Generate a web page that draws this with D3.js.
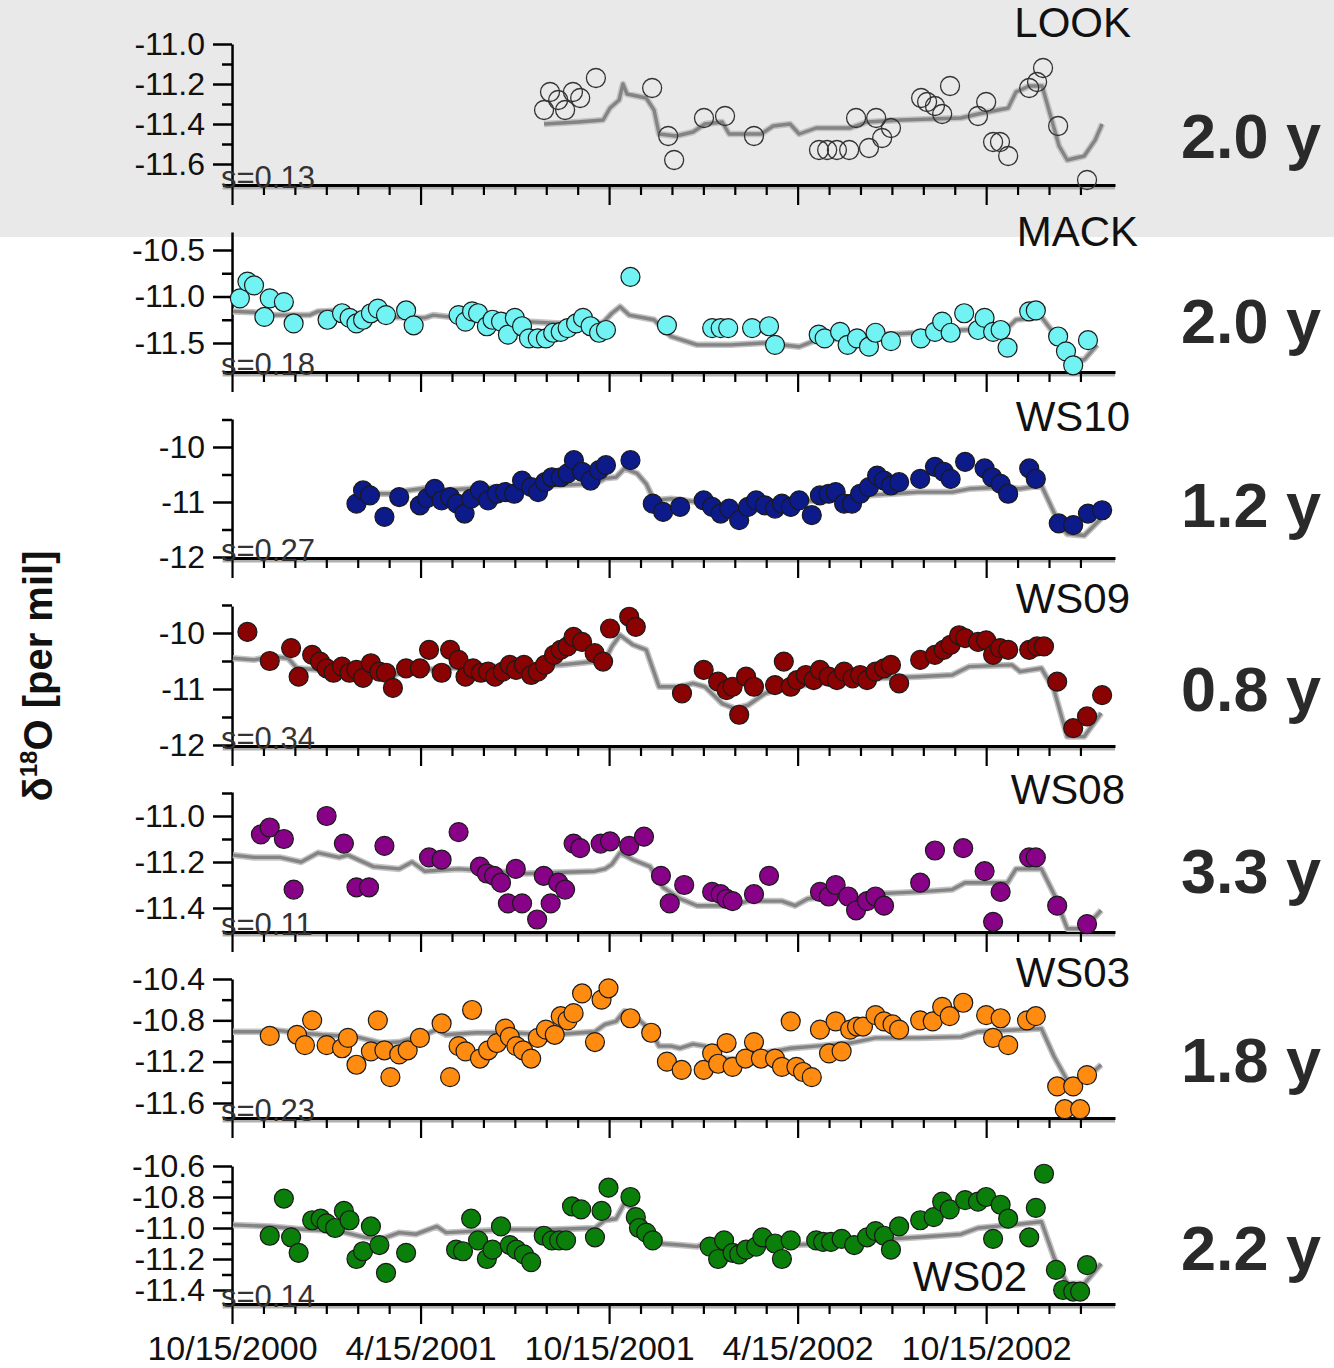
<!DOCTYPE html>
<html>
<head>
<meta charset="utf-8">
<script src="https://cdn.jsdelivr.net/npm/d3@7"></script>
<style>
  body { margin: 0; background: #fff; }
  svg { display: block; font-family: "Liberation Sans", Arial, sans-serif; }
</style>
</head>
<body>
<div id="chart"></div>
<script>
// x values are months after 10/15/2000, y values are d18O in per mil

const STATIONS = ["LOOK", "MACK", "WS10", "WS09", "WS08", "WS03", "WS02"];
const LAGS = ["2.0 y", "2.0 y", "1.2 y", "0.8 y", "3.3 y", "1.8 y", "2.2 y"];
const SIGMAS = ["s=0.13", "s=0.18", "s=0.27", "s=0.34", "s=0.11", "s=0.23", "s=0.14"];
const MONTH_TICKS = d3.range(0, 28);
const DATE_TICKS = [0, 6, 12, 18, 24];
const DATE_LABELS = ["10/15/2000", "4/15/2001", "10/15/2001", "4/15/2002", "10/15/2002"];

const LOOK_TICKS = [-11.0, -11.2, -11.4, -11.6];
const LOOK_MINOR = [-11.1, -11.3, -11.5];
const MACK_TICKS = [-10.5, -11.0, -11.5];
const MACK_MINOR = [-10.75, -11.25];
const WS10_TICKS = [-10, -11, -12];
const WS10_MINOR = [-9.5, -10.5, -11.5];
const WS09_TICKS = [-10, -11, -12];
const WS09_MINOR = [-9.5, -10.5, -11.5];
const WS08_TICKS = [-11.0, -11.2, -11.4];
const WS08_MINOR = [-10.9, -11.1, -11.3];
const WS03_TICKS = [-10.4, -10.8, -11.2, -11.6];
const WS03_MINOR = [-10.6, -11.0, -11.4];
const WS02_TICKS = [-10.6, -10.8, -11.0, -11.2, -11.4];
const WS02_MINOR = [-10.7, -10.9, -11.1, -11.3];

const LOOK_OBS = [
  [9.93, -11.33], [10.12, -11.24], [10.38, -11.28], [10.60, -11.33], [10.85, -11.24],
  [11.08, -11.27], [11.58, -11.17], [13.37, -11.22], [13.88, -11.46], [14.07, -11.58],
  [15.02, -11.37], [15.69, -11.36], [16.61, -11.46], [18.68, -11.53], [18.94, -11.53],
  [19.25, -11.53], [19.64, -11.53], [19.86, -11.37], [20.27, -11.52], [20.50, -11.37],
  [20.69, -11.47], [20.97, -11.42], [21.93, -11.27], [22.12, -11.29], [22.37, -11.31],
  [22.60, -11.35], [22.85, -11.21], [23.74, -11.36], [24.00, -11.29], [24.22, -11.49],
  [24.44, -11.49], [24.70, -11.56], [25.37, -11.22], [25.62, -11.19], [25.81, -11.12],
  [26.29, -11.41], [27.21, -11.68]
];
const LOOK_FIT = [
  [9.93, -11.40], [11.01, -11.39], [11.81, -11.38], [12.03, -11.32], [12.32, -11.28],
  [12.44, -11.20], [12.57, -11.25], [13.18, -11.27], [13.43, -11.33], [13.59, -11.45],
  [14.13, -11.46], [14.67, -11.44], [15.05, -11.40], [15.60, -11.39], [15.82, -11.45],
  [16.84, -11.45], [17.22, -11.41], [17.76, -11.40], [18.05, -11.45], [18.59, -11.42],
  [19.67, -11.42], [20.21, -11.39], [21.29, -11.38], [23.20, -11.37], [23.74, -11.35],
  [24.70, -11.32], [24.95, -11.24], [25.37, -11.21], [25.78, -11.21], [26.32, -11.51],
  [26.58, -11.58], [27.12, -11.56], [27.47, -11.48], [27.69, -11.40]
];

const MACK_OBS = [
  [0.25, -11.02], [0.49, -10.84], [0.70, -10.88], [1.03, -11.22], [1.20, -11.02],
  [1.65, -11.06], [1.96, -11.29], [3.04, -11.25], [3.50, -11.18], [3.74, -11.23],
  [3.96, -11.29], [4.17, -11.25], [4.42, -11.18], [4.64, -11.13], [4.90, -11.20],
  [5.54, -11.15], [5.78, -11.31], [7.21, -11.20], [7.43, -11.27], [7.64, -11.16],
  [7.83, -11.18], [8.11, -11.32], [8.29, -11.25], [8.56, -11.27], [8.78, -11.41],
  [9.00, -11.23], [9.23, -11.32], [9.45, -11.45], [9.73, -11.45], [9.99, -11.45],
  [10.22, -11.39], [10.46, -11.38], [10.68, -11.34], [10.95, -11.29], [11.17, -11.23],
  [11.41, -11.32], [11.68, -11.39], [11.90, -11.36], [12.68, -10.79], [13.84, -11.31],
  [15.28, -11.34], [15.55, -11.34], [15.79, -11.34], [16.55, -11.34], [17.09, -11.32],
  [17.28, -11.52], [18.67, -11.41], [18.86, -11.45], [19.35, -11.38], [19.59, -11.52],
  [19.89, -11.45], [20.27, -11.54], [20.48, -11.39], [20.97, -11.48], [21.92, -11.45],
  [22.37, -11.38], [22.60, -11.27], [22.87, -11.39], [23.30, -11.18], [23.74, -11.36],
  [23.95, -11.23], [24.22, -11.38], [24.46, -11.36], [24.68, -11.55], [25.37, -11.16],
  [25.58, -11.15], [26.29, -11.43], [26.54, -11.59], [26.77, -11.74], [27.24, -11.47]
];
const MACK_FIT = [
  [0.03, -11.16], [0.70, -11.17], [1.24, -11.20], [2.47, -11.20], [2.74, -11.16],
  [3.41, -11.15], [4.23, -11.20], [5.04, -11.22], [6.13, -11.23], [6.40, -11.20],
  [7.21, -11.23], [8.29, -11.25], [9.38, -11.27], [10.46, -11.29], [11.81, -11.28],
  [12.09, -11.18], [12.35, -11.11], [12.64, -11.20], [13.43, -11.25], [13.97, -11.43],
  [14.80, -11.52], [15.88, -11.52], [16.96, -11.50], [18.05, -11.54], [18.59, -11.47],
  [19.67, -11.45], [20.75, -11.41], [21.83, -11.39], [23.20, -11.36], [24.68, -11.34],
  [24.95, -11.25], [25.76, -11.22], [26.32, -11.47], [26.58, -11.68], [27.12, -11.68],
  [27.53, -11.52]
];

const WS10_OBS = [
  [3.96, -11.03], [4.17, -10.79], [4.39, -10.88], [4.85, -11.27], [5.32, -10.91],
  [5.98, -11.06], [6.21, -10.93], [6.45, -10.76], [6.67, -10.97], [6.94, -10.91],
  [7.16, -11.03], [7.40, -11.21], [7.61, -10.94], [7.89, -10.79], [8.15, -10.97],
  [8.43, -10.85], [8.69, -10.82], [8.98, -10.85], [9.23, -10.61], [9.52, -10.73],
  [9.74, -10.82], [9.96, -10.64], [10.18, -10.55], [10.46, -10.55], [10.68, -10.48],
  [10.88, -10.24], [11.14, -10.45], [11.41, -10.61], [11.68, -10.42], [11.90, -10.33],
  [12.68, -10.24], [13.39, -11.03], [13.72, -11.18], [14.26, -11.09], [15.01, -10.97],
  [15.28, -11.09], [15.55, -11.21], [15.82, -11.12], [16.14, -11.33], [16.42, -11.09],
  [16.68, -10.97], [16.96, -11.06], [17.28, -11.12], [17.50, -11.03], [17.78, -11.09],
  [18.05, -10.97], [18.45, -11.24], [18.71, -10.88], [18.99, -10.85], [19.21, -10.82],
  [19.48, -11.03], [19.73, -11.03], [19.99, -10.85], [20.27, -10.73], [20.53, -10.52],
  [20.75, -10.61], [20.97, -10.70], [21.23, -10.64], [21.90, -10.58], [22.37, -10.36],
  [22.65, -10.45], [22.87, -10.58], [23.33, -10.27], [23.95, -10.39], [24.19, -10.55],
  [24.46, -10.67], [24.70, -10.85], [25.37, -10.39], [25.58, -10.58], [26.31, -11.39],
  [26.77, -11.42], [27.24, -11.21], [27.69, -11.15]
];
const WS10_FIT = [
  [3.95, -10.85], [5.04, -10.85], [5.59, -10.79], [6.13, -10.75], [6.67, -10.79],
  [7.75, -10.75], [8.84, -10.73], [10.18, -10.70], [11.55, -10.67], [11.87, -10.57],
  [12.22, -10.55], [12.49, -10.39], [12.89, -10.48], [13.18, -10.67], [13.43, -10.97],
  [13.97, -10.94], [14.80, -11.00], [15.05, -11.06], [15.60, -11.18], [16.42, -11.21],
  [16.96, -11.06], [18.05, -11.00], [19.12, -10.94], [20.21, -10.88], [21.83, -10.82],
  [22.92, -10.82], [23.46, -10.76], [24.54, -10.73], [25.08, -10.76], [25.76, -10.70],
  [26.32, -11.39], [26.58, -11.58], [27.12, -11.61], [27.66, -11.30]
];

const WS09_OBS = [
  [0.49, -9.98], [1.20, -10.50], [1.88, -10.27], [2.12, -10.78], [2.55, -10.39],
  [2.80, -10.51], [3.01, -10.63], [3.23, -10.71], [3.50, -10.60], [3.74, -10.71],
  [3.96, -10.66], [4.17, -10.80], [4.42, -10.54], [4.69, -10.69], [4.90, -10.71],
  [5.12, -10.98], [5.54, -10.63], [5.98, -10.63], [6.27, -10.30], [6.67, -10.71],
  [6.94, -10.30], [7.21, -10.48], [7.43, -10.78], [7.67, -10.63], [7.92, -10.71],
  [8.15, -10.69], [8.37, -10.78], [8.62, -10.69], [8.84, -10.57], [9.04, -10.66],
  [9.29, -10.57], [9.52, -10.75], [9.73, -10.69], [9.96, -10.57], [10.25, -10.39],
  [10.46, -10.30], [10.68, -10.24], [10.87, -10.07], [11.14, -10.16], [11.54, -10.36],
  [11.81, -10.51], [12.03, -9.92], [12.64, -9.71], [12.85, -9.89], [14.32, -11.08],
  [15.01, -10.66], [15.47, -10.87], [15.74, -11.02], [15.93, -10.96], [16.14, -11.46],
  [16.36, -10.78], [16.61, -10.96], [17.28, -10.93], [17.56, -10.51], [17.78, -10.96],
  [17.98, -10.84], [18.26, -10.75], [18.51, -10.84], [18.71, -10.66], [18.99, -10.78],
  [19.25, -10.84], [19.48, -10.69], [19.75, -10.81], [19.99, -10.75], [20.21, -10.84],
  [20.48, -10.69], [20.75, -10.63], [20.97, -10.57], [21.23, -10.90], [21.90, -10.48],
  [22.37, -10.39], [22.65, -10.30], [22.87, -10.21], [23.14, -10.04], [23.33, -10.09],
  [23.74, -10.16], [24.00, -10.13], [24.22, -10.39], [24.44, -10.27], [24.70, -10.30],
  [25.37, -10.30], [25.62, -10.24], [25.84, -10.24], [26.26, -10.87], [26.77, -11.70],
  [27.21, -11.49], [27.69, -11.11]
];
const WS09_FIT = [
  [0.03, -10.45], [0.70, -10.48], [1.24, -10.42], [1.78, -10.45], [2.07, -10.63],
  [2.86, -10.66], [3.69, -10.69], [4.50, -10.75], [5.04, -10.78], [5.32, -10.72],
  [6.13, -10.66], [6.67, -10.63], [8.84, -10.60], [10.46, -10.57], [11.55, -10.51],
  [11.87, -10.48], [12.09, -10.24], [12.35, -10.04], [12.76, -10.21], [13.18, -10.30],
  [13.59, -10.96], [14.26, -10.96], [14.67, -10.90], [15.05, -10.96], [15.60, -11.26],
  [16.01, -11.35], [16.42, -11.29], [16.96, -11.08], [17.78, -10.96], [19.12, -10.87],
  [20.48, -10.81], [21.83, -10.78], [22.92, -10.75], [23.46, -10.60], [24.82, -10.57],
  [25.08, -10.69], [25.76, -10.63], [26.16, -11.02], [26.58, -11.85], [27.12, -11.85],
  [27.66, -11.43]
];

const WS08_OBS = [
  [0.92, -11.08], [1.20, -11.05], [1.65, -11.10], [1.96, -11.32], [3.01, -11.00],
  [3.56, -11.12], [3.96, -11.31], [4.36, -11.31], [4.85, -11.13], [6.27, -11.18],
  [6.67, -11.19], [7.21, -11.07], [7.89, -11.22], [8.11, -11.25], [8.34, -11.26],
  [8.56, -11.29], [8.78, -11.38], [9.03, -11.23], [9.23, -11.38], [9.71, -11.45],
  [9.92, -11.26], [10.14, -11.38], [10.38, -11.29], [10.60, -11.32], [10.87, -11.12],
  [11.08, -11.14], [11.73, -11.12], [12.03, -11.11], [12.64, -11.13], [13.11, -11.09],
  [13.65, -11.26], [13.93, -11.38], [14.39, -11.30], [15.28, -11.33], [15.55, -11.34],
  [15.74, -11.36], [15.93, -11.37], [16.61, -11.34], [17.09, -11.26], [18.71, -11.33],
  [18.99, -11.35], [19.21, -11.30], [19.61, -11.35], [19.86, -11.41], [20.21, -11.37],
  [20.48, -11.35], [20.75, -11.39], [21.90, -11.29], [22.37, -11.15], [23.27, -11.14],
  [23.95, -11.24], [24.22, -11.46], [24.46, -11.33], [25.37, -11.18], [25.58, -11.18],
  [26.26, -11.39], [27.21, -11.47]
];
const WS08_FIT = [
  [0.03, -11.17], [0.70, -11.18], [1.53, -11.18], [2.20, -11.20], [2.74, -11.16],
  [3.41, -11.18], [3.69, -11.17], [4.50, -11.22], [5.32, -11.23], [5.73, -11.20],
  [6.13, -11.24], [7.21, -11.23], [8.29, -11.24], [9.38, -11.25], [11.55, -11.24],
  [11.87, -11.23], [12.09, -11.21], [12.35, -11.16], [12.76, -11.19], [13.30, -11.22],
  [13.72, -11.31], [14.26, -11.36], [14.80, -11.39], [15.88, -11.39], [16.42, -11.37],
  [17.50, -11.37], [17.92, -11.39], [18.32, -11.36], [19.12, -11.35], [19.67, -11.37],
  [20.21, -11.34], [21.83, -11.33], [22.92, -11.32], [23.33, -11.29], [24.68, -11.29],
  [24.95, -11.23], [25.76, -11.23], [26.16, -11.34], [26.58, -11.49], [27.12, -11.49],
  [27.66, -11.41]
];

const WS03_OBS = [
  [1.20, -10.95], [2.07, -10.94], [2.32, -11.04], [2.55, -10.80], [3.01, -11.04],
  [3.50, -11.07], [3.69, -10.97], [3.96, -11.23], [4.42, -11.10], [4.64, -10.80],
  [4.85, -11.09], [5.04, -11.35], [5.32, -11.13], [5.59, -11.09], [5.98, -10.97],
  [6.67, -10.83], [6.94, -11.35], [7.21, -11.05], [7.43, -11.10], [7.64, -10.70],
  [7.89, -11.17], [8.15, -11.09], [8.43, -11.02], [8.69, -10.88], [8.84, -10.96],
  [9.05, -11.05], [9.26, -11.09], [9.52, -11.17], [9.73, -10.97], [9.99, -10.89],
  [10.27, -10.94], [10.46, -10.76], [10.68, -10.80], [10.87, -10.73], [11.14, -10.54],
  [11.55, -11.01], [11.76, -10.60], [11.98, -10.49], [12.68, -10.78], [13.34, -10.92],
  [13.84, -11.20], [14.31, -11.28], [15.01, -11.28], [15.28, -11.12], [15.47, -11.22],
  [15.74, -11.02], [15.93, -11.25], [16.34, -11.17], [16.61, -11.01], [16.83, -11.17],
  [17.28, -11.17], [17.50, -11.25], [17.78, -10.81], [17.96, -11.25], [18.17, -11.30],
  [18.45, -11.35], [18.71, -10.89], [19.00, -11.12], [19.21, -10.81], [19.40, -11.10],
  [19.67, -10.89], [19.89, -10.86], [20.08, -10.86], [20.48, -10.75], [20.75, -10.81],
  [21.02, -10.84], [21.23, -10.89], [21.90, -10.80], [22.30, -10.81], [22.60, -10.67],
  [22.84, -10.76], [23.27, -10.63], [24.00, -10.75], [24.22, -10.97], [24.46, -10.78],
  [24.70, -11.04], [25.30, -10.80], [25.58, -10.76], [26.26, -11.44], [26.50, -11.66],
  [26.77, -11.44], [26.99, -11.66], [27.21, -11.33]
];
const WS03_FIT = [
  [0.03, -10.91], [0.99, -10.91], [1.24, -10.89], [2.07, -10.92], [2.86, -10.94],
  [3.96, -10.96], [4.77, -11.02], [5.32, -11.01], [6.13, -10.94], [6.52, -10.89],
  [6.81, -10.94], [7.75, -10.92], [8.84, -10.92], [10.18, -10.94], [11.55, -10.91],
  [11.87, -10.84], [12.22, -10.81], [12.49, -10.71], [12.89, -10.78], [13.30, -10.89],
  [13.59, -11.05], [13.97, -11.05], [14.26, -11.07], [14.67, -11.03], [15.05, -11.05],
  [15.60, -11.17], [16.14, -11.18], [16.68, -11.12], [17.23, -11.10], [17.78, -11.07],
  [18.59, -11.05], [19.67, -11.02], [20.48, -10.97], [21.83, -10.97], [23.20, -10.96],
  [23.74, -10.91], [25.08, -10.89], [25.76, -10.88], [26.16, -11.15], [26.58, -11.38],
  [27.12, -11.38], [27.66, -11.23]
];

const WS02_OBS = [
  [1.20, -11.05], [1.65, -10.81], [1.88, -11.06], [2.12, -11.16], [2.55, -10.95],
  [2.82, -10.94], [3.01, -10.97], [3.28, -11.00], [3.56, -10.89], [3.74, -10.95],
  [3.96, -11.20], [4.17, -11.15], [4.42, -10.99], [4.69, -11.11], [4.90, -11.29],
  [5.54, -11.16], [7.13, -11.14], [7.35, -11.15], [7.61, -10.94], [7.83, -11.08],
  [8.11, -11.20], [8.29, -11.14], [8.56, -10.99], [8.84, -11.11], [9.05, -11.14],
  [9.29, -11.17], [9.52, -11.22], [9.92, -11.05], [10.18, -11.08], [10.41, -11.08],
  [10.63, -11.08], [10.82, -10.86], [11.11, -10.88], [11.55, -11.06], [11.76, -10.89],
  [11.98, -10.74], [12.68, -10.80], [12.85, -10.93], [12.95, -11.00], [13.18, -11.03],
  [13.39, -11.08], [15.20, -11.12], [15.47, -11.20], [15.66, -11.08], [15.93, -11.16],
  [16.14, -11.17], [16.36, -11.14], [16.68, -11.12], [16.88, -11.06], [17.28, -11.10],
  [17.50, -11.20], [17.78, -11.08], [18.59, -11.08], [18.81, -11.09], [19.06, -11.09],
  [19.40, -11.07], [19.80, -11.11], [20.21, -11.06], [20.48, -11.02], [20.75, -11.05],
  [20.97, -11.14], [21.23, -10.99], [21.90, -10.95], [22.33, -10.93], [22.60, -10.83],
  [22.84, -10.88], [23.33, -10.82], [23.74, -10.83], [24.00, -10.80], [24.22, -11.07],
  [24.46, -10.85], [24.70, -10.94], [25.37, -11.06], [25.58, -10.87], [25.84, -10.65],
  [26.22, -11.27], [26.45, -11.40], [26.77, -11.41], [26.99, -11.41], [27.21, -11.24]
];
const WS02_FIT = [
  [0.03, -10.98], [1.24, -10.99], [1.78, -11.00], [2.32, -11.01], [3.41, -11.02],
  [4.23, -11.06], [4.77, -11.07], [5.32, -11.03], [5.86, -11.04], [6.52, -10.99],
  [6.81, -11.03], [7.75, -11.02], [8.84, -11.01], [10.18, -11.01], [11.55, -11.00],
  [11.87, -10.95], [12.22, -10.94], [12.49, -10.84], [12.89, -10.89], [13.18, -10.99],
  [13.59, -11.10], [14.26, -11.11], [14.80, -11.12], [15.20, -11.09], [15.60, -11.17],
  [16.14, -11.17], [16.68, -11.12], [17.78, -11.11], [19.12, -11.10], [20.21, -11.08],
  [21.83, -11.06], [23.20, -11.04], [23.74, -11.00], [24.82, -10.98], [25.76, -10.96],
  [26.16, -11.19], [26.58, -11.36], [27.12, -11.36], [27.66, -11.23]
];

// lookup tables built from the arrays above
const OBS = { LOOK: LOOK_OBS, MACK: MACK_OBS, WS10: WS10_OBS, WS09: WS09_OBS, WS08: WS08_OBS, WS03: WS03_OBS, WS02: WS02_OBS };
const FIT = { LOOK: LOOK_FIT, MACK: MACK_FIT, WS10: WS10_FIT, WS09: WS09_FIT, WS08: WS08_FIT, WS03: WS03_FIT, WS02: WS02_FIT };
const Y_TICKS = { LOOK: LOOK_TICKS, MACK: MACK_TICKS, WS10: WS10_TICKS, WS09: WS09_TICKS, WS08: WS08_TICKS, WS03: WS03_TICKS, WS02: WS02_TICKS };
const Y_MINOR = { LOOK: LOOK_MINOR, MACK: MACK_MINOR, WS10: WS10_MINOR, WS09: WS09_MINOR, WS08: WS08_MINOR, WS03: WS03_MINOR, WS02: WS02_MINOR };

// layout: pixel rows of each panel (top of y axis, x axis line, first/last major tick)
const W = 1334, H = 1368;
const LAYOUT = [
  { top: 44, bottom: 185, p0: 44, p1: 164, dec: 1, fill: "none", nameX: 1131, nameY: 37, lagY: 158 },
  { top: 232, bottom: 372, p0: 250, p1: 343, dec: 1, fill: "#72f3f3", nameX: 1138, nameY: 246, lagY: 343 },
  { top: 419, bottom: 558, p0: 447, p1: 557, dec: 0, fill: "#0c1a8a", nameX: 1130, nameY: 431, lagY: 527 },
  { top: 606, bottom: 746, p0: 633, p1: 745, dec: 0, fill: "#8a0202", nameX: 1130, nameY: 613, lagY: 711 },
  { top: 792, bottom: 932, p0: 816, p1: 908, dec: 1, fill: "#870287", nameX: 1125, nameY: 804, lagY: 893 },
  { top: 979, bottom: 1118, p0: 979, p1: 1103, dec: 1, fill: "#ff8c10", nameX: 1130, nameY: 987, lagY: 1082 },
  { top: 1166, bottom: 1304, p0: 1166, p1: 1290, dec: 1, fill: "#0a7f0a", nameX: 1027, nameY: 1291, lagY: 1270 }
];

const x = d3.scaleLinear().domain([-0.3, 28.1]).range([222.6, 1115]);

function renderPanel(svg, i) {
  const name = STATIONS[i];
  const L = LAYOUT[i];
  const ticks = Y_TICKS[name];
  const base = d3.scaleLinear()
    .domain([ticks[0], ticks[ticks.length - 1]])
    .range([L.p0, L.p1]);
  const y = d3.scaleLinear()
    .domain([base.invert(L.top), base.invert(L.bottom)])
    .range([L.top, L.bottom]);

  const g = svg.append("g").attr("class", "panel");

  // x axis: shadow, minor month ticks, major ticks
  g.append("line")
    .attr("x1", x.range()[0]).attr("x2", x.range()[1])
    .attr("y1", L.bottom + 2.5).attr("y2", L.bottom + 2.5)
    .attr("stroke", "#b0b0b0").attr("stroke-width", 4);

  const isLast = i === STATIONS.length - 1;
  g.append("g")
    .attr("transform", `translate(0,${L.bottom})`)
    .call(d3.axisBottom(x).tickValues(MONTH_TICKS.filter((m) => m % 6 !== 0))
      .tickSize(10).tickSizeOuter(0).tickFormat(""))
    .call((a) => a.select(".domain").attr("stroke", "#000").attr("stroke-width", 3));

  const major = g.append("g")
    .attr("transform", `translate(0,${L.bottom})`)
    .call(d3.axisBottom(x).tickValues(DATE_TICKS).tickSize(20).tickPadding(12)
      .tickFormat((d, k) => (isLast ? DATE_LABELS[k] : "")));
  major.select(".domain").remove();

  g.selectAll(".tick line").attr("stroke", "#000").attr("stroke-width", 2.2);
  major.selectAll("text")
    .attr("font-size", "34px")
    .attr("font-family", "Liberation Sans, Arial, sans-serif")
    .attr("fill", "#111");

  // y axis
  const yAxis = g.append("g")
    .attr("transform", `translate(${x(0)},0)`)
    .call(d3.axisLeft(y).tickValues(ticks).tickSize(19).tickSizeOuter(0).tickPadding(8)
      .tickFormat((d) => d.toFixed(L.dec)));
  yAxis.select(".domain").attr("stroke", "#000").attr("stroke-width", 2.5);
  yAxis.selectAll(".tick line").attr("stroke", "#000").attr("stroke-width", 2.5);
  yAxis.selectAll("text")
    .attr("font-size", "32px")
    .attr("font-family", "Liberation Sans, Arial, sans-serif")
    .attr("fill", "#111");

  const yMinor = g.append("g")
    .attr("transform", `translate(${x(0)},0)`)
    .call(d3.axisLeft(y).tickValues(Y_MINOR[name]).tickSize(10).tickFormat(""));
  yMinor.select(".domain").remove();
  yMinor.selectAll(".tick line").attr("stroke", "#000").attr("stroke-width", 2.5);

  // fitted model line
  const line = d3.line().x((d) => x(d[0])).y((d) => y(d[1]));
  g.append("path")
    .datum(FIT[name])
    .attr("d", line)
    .attr("fill", "none")
    .attr("stroke", "#c4c4c4")
    .attr("stroke-width", 6.5)
    .attr("stroke-linejoin", "round");
  g.append("path")
    .datum(FIT[name])
    .attr("d", line)
    .attr("fill", "none")
    .attr("stroke", "#848484")
    .attr("stroke-width", 3.4)
    .attr("stroke-linejoin", "round");

  // observations
  g.append("g")
    .selectAll("circle")
    .data(OBS[name])
    .join("circle")
    .attr("cx", (d) => x(d[0]))
    .attr("cy", (d) => y(d[1]))
    .attr("r", L.fill === "none" ? 9.5 : 9.5)
    .attr("fill", L.fill)
    .attr("stroke", L.fill === "none" ? "#333" : "#1a1a1a")
    .attr("stroke-width", L.fill === "none" ? 1.3 : 1.2);

  // labels
  g.append("text")
    .text(SIGMAS[i])
    .attr("x", 221)
    .attr("y", L.bottom + 3)
    .attr("font-size", "31px")
    .attr("fill", "#333");

  g.append("text")
    .text(name)
    .attr("x", L.nameX)
    .attr("y", L.nameY)
    .attr("text-anchor", "end")
    .attr("font-size", "42px")
    .attr("fill", "#111");

  g.append("text")
    .text(LAGS[i])
    .attr("x", 1181)
    .attr("y", L.lagY)
    .attr("font-size", "63px")
    .attr("font-weight", "bold")
    .attr("fill", "#2a2a2a");
}

function render() {
  const svg = d3.select("#chart")
    .append("svg")
    .attr("width", W)
    .attr("height", H)
    .attr("viewBox", `0 0 ${W} ${H}`);

  svg.append("rect")
    .attr("width", W).attr("height", H).attr("fill", "#fff");
  svg.append("rect")
    .attr("width", W).attr("height", 237).attr("fill", "#e9e9e9");

  STATIONS.forEach((_, i) => renderPanel(svg, i));

  // y axis title
  const title = svg.append("text")
    .attr("transform", "translate(52,676) rotate(-90)")
    .attr("text-anchor", "middle")
    .attr("font-size", "40px")
    .attr("font-weight", "bold")
    .attr("fill", "#111");
  title.append("tspan").text("δ");
  title.append("tspan").text("18").attr("font-size", "24px").attr("dy", -15);
  title.append("tspan").text("O [per mil]").attr("dy", 15);
}

render();
</script>
</body>
</html>
